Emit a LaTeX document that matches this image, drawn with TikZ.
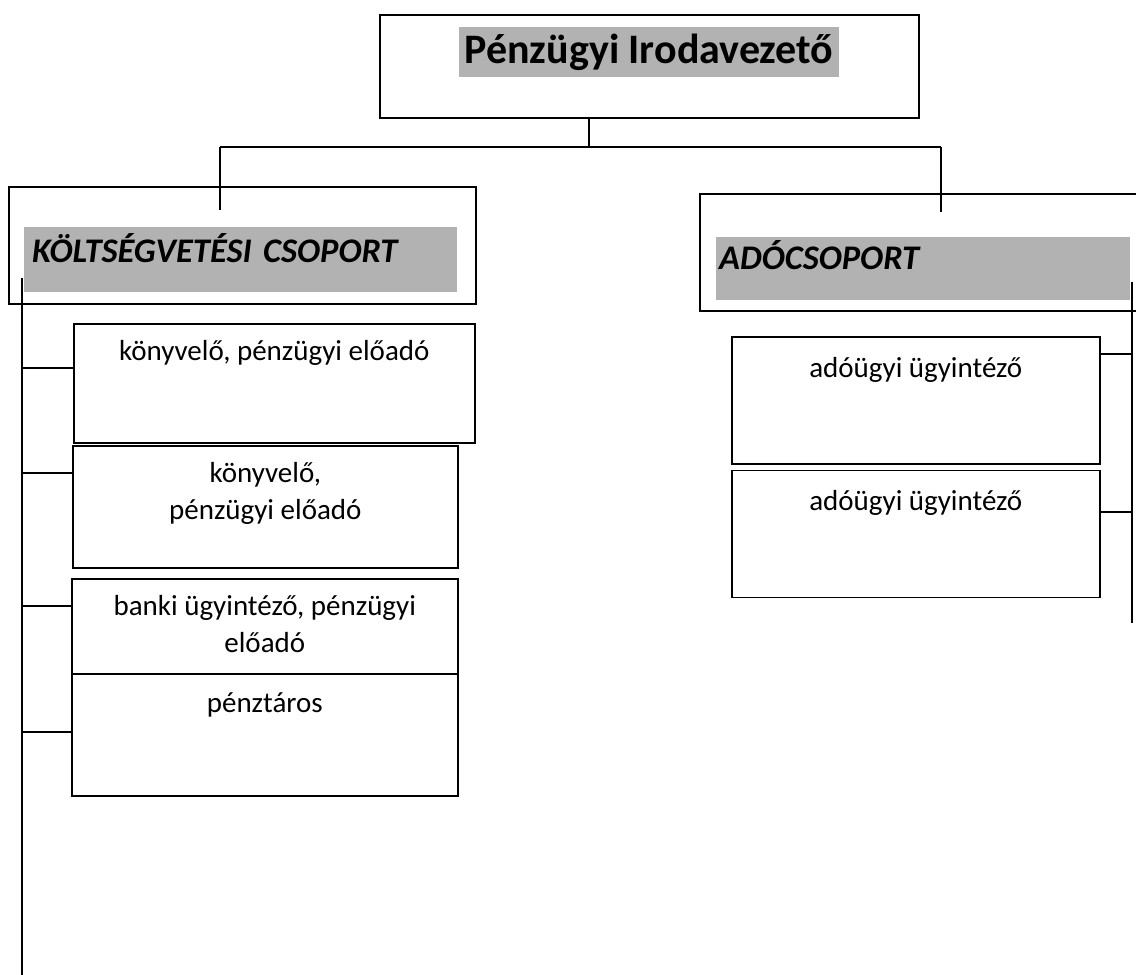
\documentclass[tikz,border=0pt]{standalone}
\usepackage{fontspec}
\setmainfont{Carlito}
\usetikzlibrary{positioning,calc}

\begin{document}
\begin{tikzpicture}[x=1pt, y=-1pt,
  box/.style={draw, line width=1.6pt, anchor=north west, inner sep=0pt},
  lbl/.style={anchor=north, inner sep=0pt, yshift=-17pt, align=center, font=\fontsize{29}{37}\selectfont},
  hl/.style={fill=black!30, inner ysep=0pt, anchor=north west, align=left},
  conn/.style={line width=1.6pt}]

\useasboundingbox (0,0) rectangle (1136,975);

% Head of office
\node[box, minimum width=539pt, minimum height=103pt] (boss) at (379,14) {};
\node[hl, anchor=center, inner xsep=3pt, minimum width=380pt, text height=36pt, text depth=14pt,
      font=\fontsize{42}{46}\selectfont\bfseries] (title) at (649,52) {Pénzügyi Irodavezető};

% Groups
\node[box, minimum width=467pt, minimum height=117pt] (kolt) at (8,186) {};
\node[hl, inner xsep=8pt, text width=417pt, text height=35pt, text depth=30pt,
      font=\fontsize{34.5}{38}\selectfont\bfseries\itshape] (koltT) at (24,227) {KÖLTSÉGVETÉSI CSOPORT};
\node[box, minimum width=441pt, minimum height=117pt] (ado) at (699,193) {};
\node[hl, inner xsep=3pt, text width=408pt, text height=32pt, text depth=31pt,
      font=\fontsize{34.5}{38}\selectfont\bfseries\itshape] (adoT) at (716,237) {ADÓCSOPORT};

% Staff of the budget group
\node[box, minimum width=401pt, minimum height=119pt, label={[lbl]north:könyvelő, pénzügyi előadó}] (k1) at (73,323) {};
\node[box, minimum width=385pt, minimum height=122pt, label={[lbl]north:könyvelő,\\pénzügyi előadó}] (k2) at (72,445) {};
\node[box, minimum width=386pt, minimum height=95pt, label={[lbl]north:banki ügyintéző, pénzügyi\\előadó}] (k3) at (71,578) {};
\node[box, minimum width=386pt, minimum height=122pt, below=-1.6pt of k3.south west, anchor=north west,
      label={[lbl, yshift=-2pt]north:pénztáros}] (k4) {};

% Staff of the tax group
\node[box, minimum width=368pt, minimum height=127pt, label={[lbl, yshift=-4pt]north:adóügyi ügyintéző}] (a1) at (731,336) {};
\node[box, minimum width=368pt, minimum height=127pt, below=5pt of a1.south west, anchor=north west,
      label={[lbl, yshift=-4pt]north:adóügyi ügyintéző}] (a2) {};

% Connectors
\coordinate (busL) at (220,147);
\coordinate (busR) at (941,147);
\coordinate (koltIn) at (220,210);
\coordinate (adoIn) at (941,212);
\coordinate (lTop) at (22,278);
\coordinate (lBot) at (22,975);
\coordinate (rTop) at (1132,282);
\coordinate (rBot) at (1132,623);

\draw[conn] ([xshift=-60.5pt]boss.south) |- (busL);
\draw[conn] ([xshift=-60.5pt]boss.south) |- (busR);
\draw[conn] (busL) -- (koltIn);
\draw[conn] (busR) -- (adoIn);
\draw[conn] (ado.north east) -- ++(20,0);

\draw[conn] (lTop) -- (lBot);
\foreach \b/\d in {k1/45,k2/28,k3/28,k4/59}
  \draw[conn] ($(\b.north west)+(0,\d)$) -| (lTop);

\draw[conn] (rTop) -- (rBot);
\foreach \b/\d in {a1/18,a2/42.5}
  \draw[conn] ($(\b.north east)+(0,\d)$) -| (rTop);

\end{tikzpicture}
\end{document}
